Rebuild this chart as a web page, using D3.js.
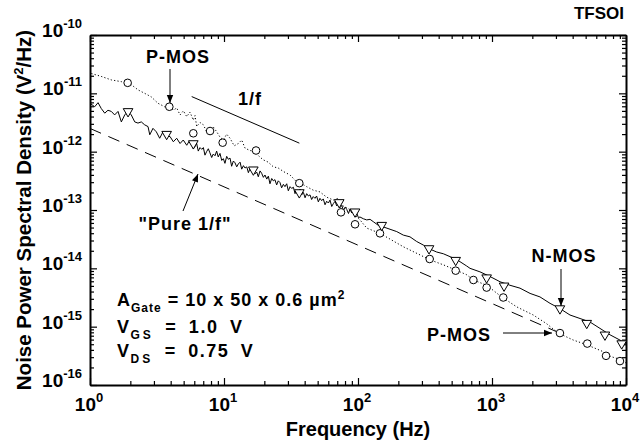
<!DOCTYPE html>
<html><head><meta charset="utf-8">
<script src="https://cdn.jsdelivr.net/npm/d3@7"></script>
<style>body{margin:0;background:#fff}svg{display:block}</style>
</head><body>
<svg id="chart" width="641" height="443"></svg>
<script>
// ---- data (log10 of frequency in Hz, log10 of PSD in V^2/Hz) ----
const nmosLogF = [0.000,0.035,0.060,0.084,0.110,0.134,0.159,0.184,0.209,0.234,0.259,0.284,0.308,0.334,0.358,0.383,0.408,0.433,0.446,0.470,0.495,0.520,0.545,0.569,0.597,0.622,0.647,0.672,0.696,
  0.722,0.740,0.759,0.772,0.784,0.796,0.808,0.821,0.834,0.846,0.858,0.870,0.883,0.895,0.908,0.920,0.933,0.945,0.957,0.970,0.983,0.995,1.007,1.020,1.032,1.045,1.057,1.070,1.082,1.095,1.107,1.120,1.132,1.145,1.157,1.170,1.182,1.194,1.207,1.219,1.231,1.244,1.256,1.269,1.281,1.294,1.306,1.319,1.331,1.343,1.356,1.368,1.380,1.393,1.405,1.418,1.430,1.443,1.455,1.468,1.480,1.493,1.505,1.518,1.530,1.543,1.555,1.568,1.580,1.593,1.605,1.617,1.630,1.642,1.654,1.666,1.679,1.691,1.704,1.716,1.729,1.741,1.754,1.766,1.779,1.791,1.804,1.816,1.829,1.841,1.854,1.866,1.879,1.891,1.904,1.916,1.929,1.941,1.953,1.965,1.978,1.990,2.003,2.015,2.040,
  2.065,2.090,2.114,2.150,2.189,2.239,2.289,2.338,2.388,2.438,2.487,2.537,2.587,2.637,2.687,2.737,2.811,2.836,2.910,2.985,3.060,3.134,3.209,3.284,3.358,3.433,3.507,3.582,3.657,3.731,3.806,3.881,3.955,4.000];
const nmosLogS = [-11.17,-11.23,-11.16,-11.26,-11.34,-11.29,-11.31,-11.37,-11.31,-11.49,-11.37,-11.31,-11.37,-11.49,-11.51,-11.49,-11.54,-11.57,-11.71,-11.60,-11.66,-11.77,-11.66,-11.74,-11.74,-11.83,-11.77,-11.86,-11.80,
  -11.89,-11.82,-11.86,-11.95,-11.91,-11.86,-11.99,-11.93,-11.96,-11.93,-12.06,-12.00,-11.95,-12.02,-12.10,-12.04,-12.07,-11.99,-12.09,-12.03,-12.15,-12.12,-12.20,-12.08,-12.13,-12.11,-12.25,-12.16,-12.19,-12.26,-12.21,-12.18,-12.30,-12.24,-12.28,-12.26,-12.36,-12.29,-12.33,-12.27,-12.38,-12.35,-12.43,-12.33,-12.37,-12.44,-12.40,-12.47,-12.42,-12.55,-12.46,-12.50,-12.48,-12.57,-12.50,-12.53,-12.62,-12.56,-12.60,-12.55,-12.67,-12.60,-12.63,-12.61,-12.72,-12.66,-12.70,-12.64,-12.74,-12.70,-12.79,-12.72,-12.76,-12.74,-12.82,-12.77,-12.80,-12.76,-12.86,-12.80,-12.84,-12.81,-12.91,-12.85,-12.88,-12.83,-12.94,-12.89,-12.85,-12.93,-12.90,-12.96,-12.92,-13.01,-12.95,-12.99,-13.06,-12.98,-13.05,-13.02,-13.10,-13.05,-13.13,-13.12,-13.15,
  -13.17,-13.16,-13.20,-13.26,-13.29,-13.33,-13.37,-13.43,-13.46,-13.54,-13.60,-13.67,-13.72,-13.75,-13.80,-13.85,-13.96,-14.00,-14.06,-14.14,-14.23,-14.29,-14.34,-14.43,-14.49,-14.60,-14.69,-14.80,-14.86,-14.92,-15.03,-15.14,-15.23,-15.29];
const nmosMarkLogF = [0.284,0.572,0.771,1.219,1.562,1.860,1.978,2.177,2.530,2.729,2.960,3.090,3.507,3.707,3.843,3.968];
const nmosMarkLogS = [-11.31,-11.70,-11.86,-12.31,-12.70,-12.87,-13.03,-13.26,-13.66,-13.86,-14.16,-14.30,-14.69,-14.94,-15.14,-15.29];

const pmosLogF = [0.010,0.084,0.159,0.234,0.296,0.358,0.408,0.457,0.507,0.557,0.590,0.622,0.647,0.672,0.697,0.722,0.746,0.771,0.784,0.796,0.821,0.846,0.871,0.896,0.921,0.946,0.970,0.995,1.020,1.045,1.076,1.107,1.132,1.157,1.194,1.231,1.262,1.293,1.330,1.368,1.405,1.443,1.493,1.543,1.580,1.617,1.666,1.716,1.766,1.816,1.850,1.888,1.930,1.965,2.015,2.065,2.164,2.338,2.463,2.532,2.637,2.731,2.811,2.861,2.960,3.072,3.184,3.308,3.408,3.495,3.607,3.707,3.831,3.856,3.968,3.998];
const pmosLogS = [-10.66,-10.71,-10.77,-10.80,-10.83,-10.94,-11.00,-11.06,-11.17,-11.23,-11.20,-11.29,-11.25,-11.37,-11.30,-11.40,-11.32,-11.46,-11.38,-11.57,-11.50,-11.54,-11.66,-11.63,-11.58,-11.66,-11.75,-11.80,-11.70,-11.77,-11.90,-11.86,-11.80,-11.94,-11.98,-12.00,-12.08,-12.14,-12.18,-12.26,-12.28,-12.34,-12.40,-12.52,-12.55,-12.60,-12.66,-12.69,-12.78,-12.83,-12.80,-12.93,-12.98,-13.06,-13.17,-13.31,-13.40,-13.63,-13.77,-13.85,-13.94,-14.03,-14.11,-14.20,-14.29,-14.49,-14.66,-14.80,-14.95,-15.11,-15.23,-15.31,-15.43,-15.49,-15.57,-15.62];
const pmosMarkLogF = [0.281,0.592,0.771,0.896,0.990,1.239,1.562,1.873,1.978,2.164,2.535,2.729,2.861,2.960,3.084,3.507,3.711,3.851,3.955];
const pmosMarkLogS = [-10.82,-11.23,-11.685,-11.646,-11.846,-11.98,-12.54,-13.04,-13.245,-13.40,-13.84,-14.04,-14.20,-14.33,-14.50,-15.11,-15.29,-15.50,-15.59];

// reference lines: [f, S] end points
const pure1fLine = [[1, 2.5e-12], [3000, 8.3e-16]];
const slope1fLine = [[5.74, 8.8e-12], [36.5, 1.40e-12]];

const xMajor = [1, 10, 100, 1000, 10000];
const xMajorExp = ["0", "1", "2", "3", "4"];
const yMajor = [1e-16, 1e-15, 1e-14, 1e-13, 1e-12, 1e-11, 1e-10];
const yMajorExp = ["-16", "-15", "-14", "-13", "-12", "-11", "-10"];

// ---- drawing ----
const svg = d3.select("#chart");
const FONT = "'Liberation Sans', Arial, Helvetica, sans-serif";
const x = d3.scaleLog().domain([1, 1e4]).range([90, 626]);
const y = d3.scaleLog().domain([1e-16, 1e-10]).range([385, 35]);

function minors(lo, hi) {
  const out = [];
  for (let e = lo; e < hi; e++) for (let k = 2; k <= 9; k++) out.push(k * Math.pow(10, e));
  return out;
}
const xMinor = minors(0, 4);
const yMinor = minors(-16, -10);

const defs = svg.append("defs");
defs.append("marker").attr("id", "arr").attr("viewBox", "0 0 10 10")
  .attr("refX", 10).attr("refY", 5).attr("markerWidth", 10).attr("markerHeight", 8)
  .attr("markerUnits", "userSpaceOnUse").attr("orient", "auto")
  .append("path").attr("d", "M0,1 L10,5 L0,9 Z").attr("fill", "#000");

// axes
function drawAxis(gen, tx, ty, vals, size, keepDomain) {
  const g = svg.append("g").attr("transform", `translate(${tx},${ty})`)
    .call(gen.tickValues(vals).tickSizeInner(-size).tickSizeOuter(0).tickFormat(""));
  g.selectAll(".tick line").attr("stroke", "#000").attr("stroke-width", 1.2);
  if (keepDomain) g.select(".domain").attr("stroke", "#000").attr("stroke-width", 2);
  else g.select(".domain").remove();
  g.selectAll("text").remove();
}
drawAxis(d3.axisBottom(x), 0, 385, xMajor, 7, true);
drawAxis(d3.axisBottom(x), 0, 385, xMinor, 4, false);
drawAxis(d3.axisTop(x), 0, 35, xMajor, 7, true);
drawAxis(d3.axisTop(x), 0, 35, xMinor, 4, false);
drawAxis(d3.axisLeft(y), 90, 0, yMajor, 7, true);
drawAxis(d3.axisLeft(y), 90, 0, yMinor, 4, false);
drawAxis(d3.axisRight(y), 626, 0, yMajor, 7, true);
drawAxis(d3.axisRight(y), 626, 0, yMinor, 4, false);

// tick labels
const xl = svg.append("g").attr("font-family", FONT).attr("font-weight", "bold");
xMajor.forEach((v, i) => {
  const t = xl.append("text").attr("x", x(v) - 1).attr("y", 411).attr("text-anchor", "middle").attr("font-size", 19);
  t.append("tspan").text("10");
  t.append("tspan").attr("dy", -9).attr("font-size", 13).text(xMajorExp[i]);
});
yMajor.forEach((v, i) => {
  const t = xl.append("text").attr("x", 82).attr("y", y(v) + 2).attr("text-anchor", "end").attr("font-size", 19);
  t.append("tspan").text("10");
  t.append("tspan").attr("dy", -9).attr("font-size", 13).text(yMajorExp[i]);
});

// axis titles
svg.append("text").attr("x", 358).attr("y", 436).attr("text-anchor", "middle")
  .attr("font-family", FONT).attr("font-weight", "bold").attr("font-size", 20).text("Frequency (Hz)");
const yt = svg.append("text").attr("transform", "translate(31,210) rotate(-90)").attr("text-anchor", "middle")
  .attr("font-family", FONT).attr("font-weight", "bold").attr("font-size", 20.5);
yt.append("tspan").text("Noise Power Spectral Density (V");
yt.append("tspan").attr("dy", -8).attr("font-size", 13).text("2");
yt.append("tspan").attr("dy", 8).text("/Hz)");

svg.append("text").attr("x", 624).attr("y", 19).attr("text-anchor", "end")
  .attr("font-family", FONT).attr("font-weight", "bold").attr("font-size", 17).text("TFSOI");

// reference lines
const line = d3.line().x(d => x(d[0])).y(d => y(d[1]));
svg.append("path").attr("d", line(pure1fLine)).attr("fill", "none").attr("stroke", "#000")
  .attr("stroke-width", 1).attr("stroke-dasharray", "12,8");
svg.append("path").attr("d", line(slope1fLine)).attr("fill", "none").attr("stroke", "#000").attr("stroke-width", 1);

// series
const lline = d3.line().x(d => x(Math.pow(10, d[0]))).y(d => y(Math.pow(10, d[1])));
svg.append("path").attr("d", lline(d3.zip(pmosLogF, pmosLogS))).attr("fill", "none")
  .attr("stroke", "#000").attr("stroke-width", 1).attr("stroke-dasharray", "1.2,2.2");
svg.append("path").attr("d", lline(d3.zip(nmosLogF, nmosLogS))).attr("fill", "none")
  .attr("stroke", "#000").attr("stroke-width", 1);

// markers
svg.append("g").selectAll("circle").data(d3.zip(pmosMarkLogF, pmosMarkLogS)).join("circle")
  .attr("cx", d => x(Math.pow(10, d[0]))).attr("cy", d => y(Math.pow(10, d[1])))
  .attr("r", 3.8).attr("fill", "#fff").attr("stroke", "#000").attr("stroke-width", 1);
const tri = d3.symbol().type(d3.symbolTriangle).size(40);
svg.append("g").selectAll("path").data(d3.zip(nmosMarkLogF, nmosMarkLogS)).join("path")
  .attr("d", tri)
  .attr("transform", d => `translate(${x(Math.pow(10, d[0]))},${y(Math.pow(10, d[1]))}) rotate(180)`)
  .attr("fill", "#fff").attr("stroke", "#000").attr("stroke-width", 1);

// annotations
const ann = svg.append("g").attr("font-family", FONT).attr("font-weight", "bold").attr("fill", "#000");
function label(tx, ty, txt, size, anchor) {
  return ann.append("text").attr("x", tx).attr("y", ty).attr("font-size", size)
    .attr("text-anchor", anchor || "start").attr("letter-spacing", 1).text(txt);
}
function arrow(x1, y1, x2, y2) {
  svg.append("line").attr("x1", x1).attr("y1", y1).attr("x2", x2).attr("y2", y2)
    .attr("stroke", "#000").attr("stroke-width", 1).attr("marker-end", "url(#arr)");
}
label(178, 63, "P-MOS", 18, "middle");
arrow(170, 69, 170, 103);
label(250, 105, "1/f", 18, "middle");
label(185, 230, "\"Pure 1/f\"", 18, "middle");
arrow(183, 211, 198, 174);
label(564, 262, "N-MOS", 18, "middle");
arrow(561, 269, 561, 306);
label(459, 341, "P-MOS", 18, "middle");
arrow(503, 333, 552, 333);

const tb = ann.append("g").attr("font-size", 18);
const t1 = tb.append("text").attr("x", 117).attr("y", 306).attr("letter-spacing", 1);
t1.append("tspan").text("A");
t1.append("tspan").attr("dy", 6).attr("font-size", 12).text("Gate");
t1.append("tspan").attr("dy", -6).text(" = 10 x 50 x 0.6 \u00b5m");
t1.append("tspan").attr("dy", -7).attr("font-size", 12).text("2");
const t2 = tb.append("text").attr("x", 117).attr("y", 333).attr("letter-spacing", 1.5).attr("word-spacing", 5);
t2.append("tspan").text("V");
t2.append("tspan").attr("dy", 6).attr("font-size", 12).attr("letter-spacing", 3).text("GS");
t2.append("tspan").attr("dy", -6).text(" = 1.0 V");
const t3 = tb.append("text").attr("x", 117).attr("y", 357).attr("letter-spacing", 1.5).attr("word-spacing", 5);
t3.append("tspan").text("V");
t3.append("tspan").attr("dy", 6).attr("font-size", 12).attr("letter-spacing", 3).text("DS");
t3.append("tspan").attr("dy", -6).text(" = 0.75 V");
</script>
</body></html>
